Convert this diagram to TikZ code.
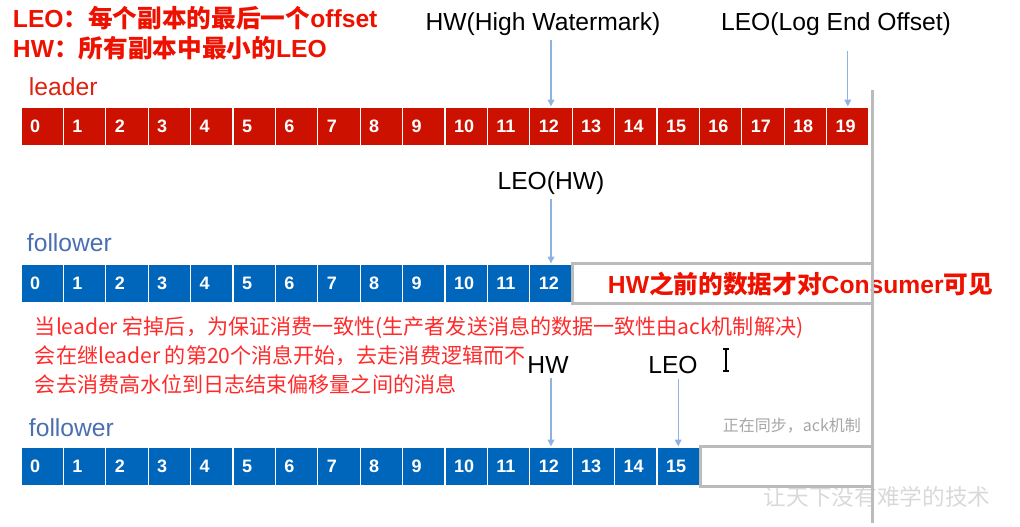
\documentclass[tikz,border=0pt]{standalone}
\usepackage{fontspec}
\setmainfont{Liberation Sans}
\newfontfamily\cjk{Noto Sans CJK SC}
\usetikzlibrary{arrows.meta}
\definecolor{leadred}{HTML}{CC1100}
\definecolor{followblue}{HTML}{0066BB}
\definecolor{labelred}{HTML}{DD2211}
\definecolor{labelblue}{HTML}{4A6FB0}
\definecolor{notered}{HTML}{EE1100}
\definecolor{textred}{HTML}{FF2A2A}
\definecolor{arrowblue}{HTML}{8DB3E2}
\definecolor{railgray}{HTML}{BBBBBB}
\tikzset{every picture/.style={line width=0.75pt}}

\begin{document}
\begin{tikzpicture}[x=0.75pt, y=-0.75pt, >={Triangle[length=5pt,width=5pt]},
    every node/.style={font=\fontsize{18.5}{22}\selectfont},
    cell/.style={draw=white, line width=1pt, minimum height=29.25pt, text width=18.3pt,
        inner xsep=6.75pt, inner ysep=0pt, align=left, text=white,
        font=\fontsize{13.5}{15}\selectfont\bfseries},
    arr/.style={->, arrowblue, line width=0.9pt},
    rail/.style={draw=railgray, line width=2.25pt}]
        \useasboundingbox (0,0) rectangle (1020,526);
        % notes at the top
        \node[anchor=west, text=notered] (noteleo) at (8,18)
            {\bfseries LEO{\cjk ：每个副本的最后一个}offset};
        \node[anchor=west, text=notered] (notehw) at (8,48)
            {\bfseries HW{\cjk ：所有副本中最小的}LEO};
        \node (hw) at (543,24) {HW(High Watermark)};
        \node (leo) at (836,24) {LEO(Log End Offset)};
        % leader
        \node[anchor=west, text=labelred] (leader) at (24,87) {leader};
        \foreach \i in {0,...,19}
            \node[cell, fill=leadred] (l\i) at ({21+42.4*(\i+0.5)},126.5) {\i};
        \draw[arr] (l12.north |- hw.south) -- (l12.north);
        \draw[arr, shorten <=8pt] (l19.north |- leo.south) -- (l19.north);
        % first follower
        \node (leohw) at (551,183) {LEO(HW)};
        \node[anchor=west, text=labelblue] (follow) at (22,243) {follower};
        \foreach \i in {0,...,12}
            \node[cell, fill=followblue] (f\i) at ({21+42.4*(\i+0.5)},283.5) {\i};
        \draw[arr] (leohw.south -| f12.north) -- (f12.north);
        \node[anchor=west, text=notered] (visible) at (603,284)
            {\bfseries HW{\cjk 之前的数据才对}Consumer{\cjk 可见}};
        \node[anchor=west, align=left, text=textred, font=\cjk\fontsize{15.8}{21.8}\selectfont] (explain) at (30,355)
            {当leader 宕掉后，为保证消费一致性(生产者发送消息的数据一致性由ack机制解决)\\
             会在继leader 的第20个消息开始，去走消费逻辑而不\\
             会去消费高水位到日志结束偏移量之间的消息};
        % second follower
        \node (hwb) at (548,365) {HW};
        \node (leob) at (673,365) {LEO};
        \draw[line width=1pt] (723,349) -- (729,349) (726,349) -- (726,371) (723,371) -- (729,371);
        \node[anchor=west, text=labelblue] (followb) at (24,428) {follower};
        \node[anchor=west, text=black!35, font=\cjk\fontsize{12}{14}\selectfont] (sync) at (718,426) {正在同步，ack机制};
        \foreach \i in {0,...,15}
            \node[cell, fill=followblue] (g\i) at ({21+42.4*(\i+0.5)},466.5) {\i};
        \draw[arr] (hwb.south -| g12.north) -- (g12.north);
        \draw[arr] (leob.south -| g15.north) -- (g15.north);
        \node[text=black!15, font=\cjk\fontsize{17}{20}\selectfont] (mark) at (877,497) {让天下没有难学的技术};
        % gray rail and empty slots
        \coordinate (railtop) at (872,90);
        \coordinate (railbot) at (872,523);
        \draw[rail] (railtop) -- (railbot);
        \draw[rail] (f12.north east) rectangle (f12.south east -| railtop);
        \draw[rail] (g15.north east) rectangle (g15.south east -| railtop);
    \end{tikzpicture}
\end{document}
